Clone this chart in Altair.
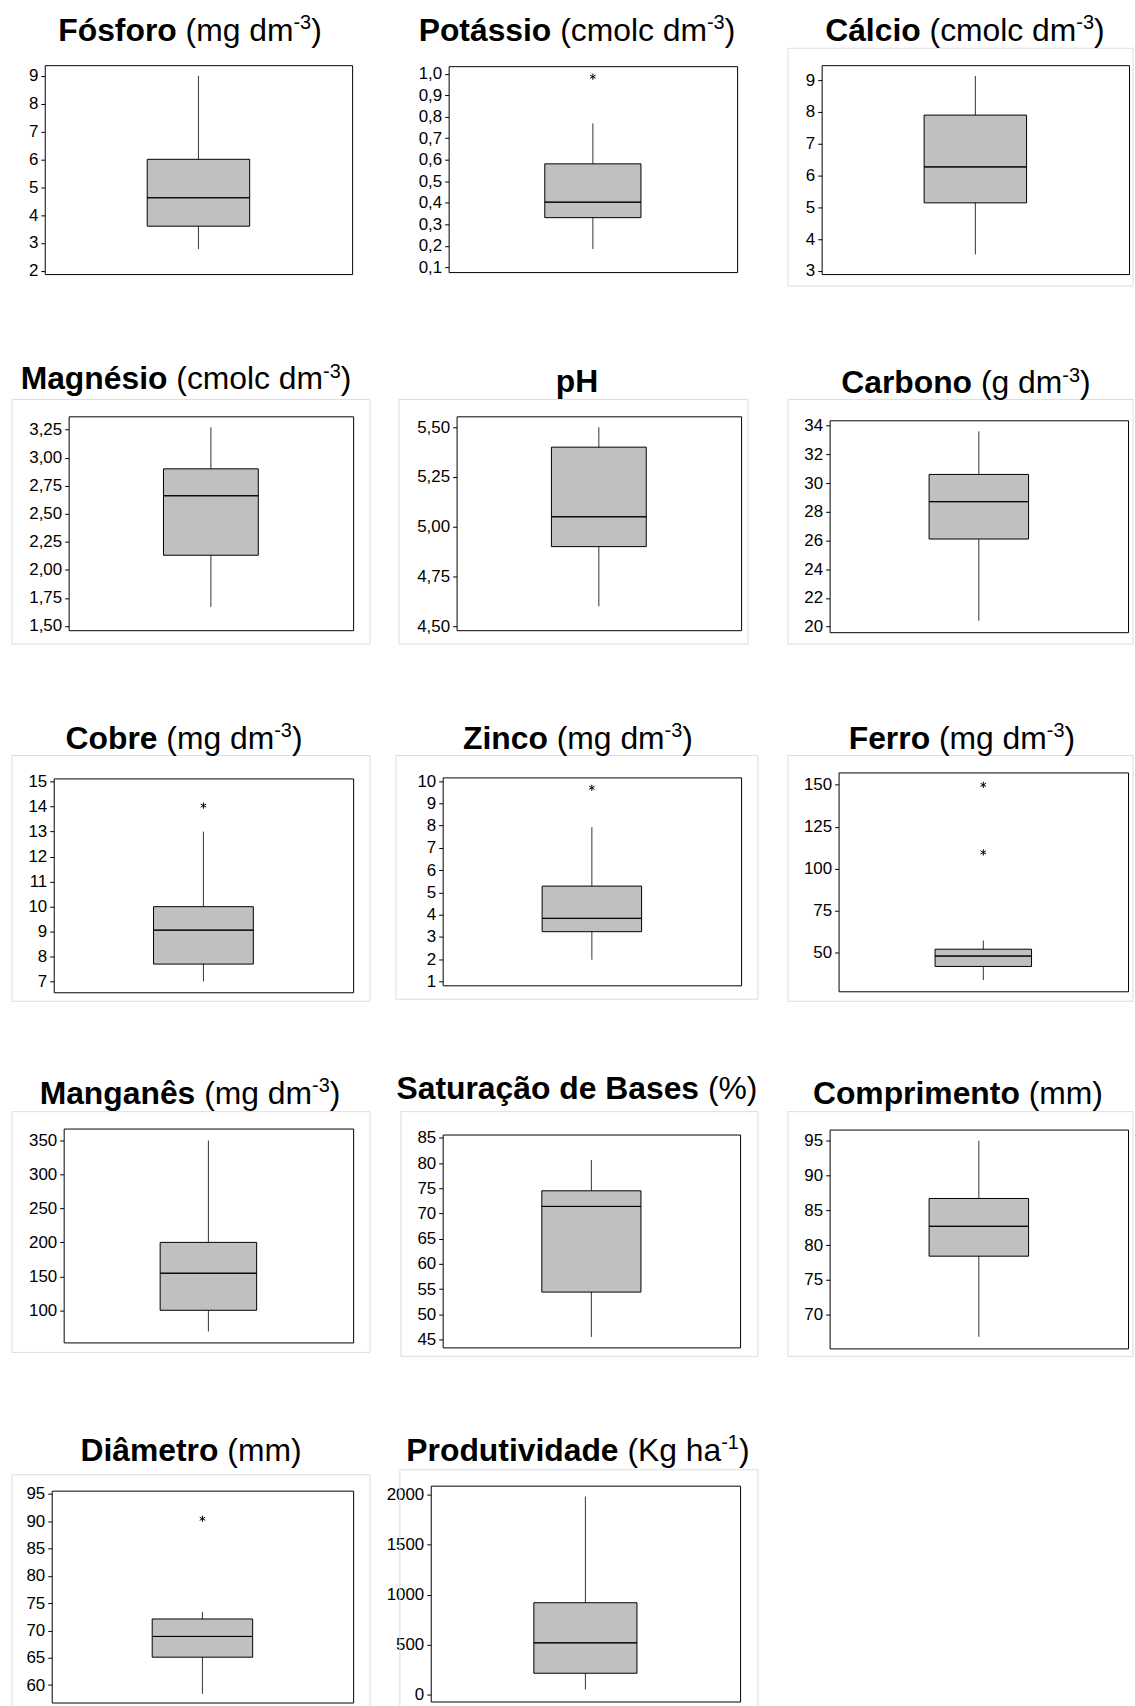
import altair as alt
import pandas as pd

# ---------------- data ----------------
names = ["Fósforo", "Potássio", "Cálcio", "Magnésio", "pH", "Carbono",
         "Cobre", "Zinco", "Ferro", "Manganês", "Saturação de Bases", "Comprimento",
         "Diâmetro", "Produtividade"]
unit_text = ["mg dm", "cmolc dm", "cmolc dm", "cmolc dm", "", "g dm",
             "mg dm", "mg dm", "mg dm", "mg dm", "%", "mm", "mm", "Kg ha"]
unit_sup = ["-3", "-3", "-3", "-3", "", "-3", "-3", "-3", "-3", "-3", "", "", "", "-1"]

whisker_low = [2.78, 0.185, 3.52, 1.67, 4.60, 20.4, 7.0, 1.97, 33.6, 68.8, 45.5, 66.8, 58.4, 54]
quartile_1 = [3.60, 0.331, 5.14, 2.13, 4.90, 26.1, 7.69, 3.23, 41.7, 100, 54.4, 78.4, 65.1, 216]
median = [4.62, 0.403, 6.27, 2.66, 5.05, 28.7, 9.05, 3.83, 47.9, 154.6, 71.4, 82.7, 68.9, 519]
quartile_3 = [6.00, 0.581, 7.90, 2.90, 5.40, 30.6, 9.99, 5.28, 52.0, 200, 74.5, 86.7, 72.1, 919]
whisker_high = [9.00, 0.769, 9.13, 3.27, 5.50, 33.6, 13.0, 7.93, 57.2, 350, 80.6, 95.0, 73.4, 1978]
outliers = [[], [0.986], [], [], [], [], [14.04], [9.70], [109.7, 150.0], [], [], [], [90.45], []]

axis_min = [1.88, 0.078, 2.90, 1.462, 4.48, 19.61, 6.56, 0.82, 26.9, 52.7, 43.42, 65.13, 56.8, -66]
axis_max = [9.38, 1.035, 9.47, 3.368, 5.555, 34.37, 15.13, 10.165, 157.4, 367.6, 85.67, 96.62, 95.6, 2086]
tick_values = [
    [2, 3, 4, 5, 6, 7, 8, 9],
    [0.1, 0.2, 0.3, 0.4, 0.5, 0.6, 0.7, 0.8, 0.9, 1.0],
    [3, 4, 5, 6, 7, 8, 9],
    [1.5, 1.75, 2.0, 2.25, 2.5, 2.75, 3.0, 3.25],
    [4.5, 4.75, 5.0, 5.25, 5.5],
    [20, 22, 24, 26, 28, 30, 32, 34],
    [7, 8, 9, 10, 11, 12, 13, 14, 15],
    [1, 2, 3, 4, 5, 6, 7, 8, 9, 10],
    [50, 75, 100, 125, 150],
    [100, 150, 200, 250, 300, 350],
    [45, 50, 55, 60, 65, 70, 75, 80, 85],
    [70, 75, 80, 85, 90, 95],
    [60, 65, 70, 75, 80, 85, 90, 95],
    [0, 500, 1000, 1500, 2000],
]
tick_decimals = [0, 1, 0, 2, 2, 0, 0, 0, 0, 0, 0, 0, 0, 0]

# ---------------- layout (pixels, page coordinates) ----------------
PAGE_DY = -5   # compensates the page's own top offset
plot_left = [44, 448, 821, 68, 456, 829, 53, 442, 838, 63, 442, 829, 51, 430]
plot_top = [65, 66, 65, 416, 416, 420, 778, 777, 772, 1128, 1134, 1129, 1490, 1485]
plot_w = [309, 290, 309, 286, 286, 300, 301, 300, 291, 291, 299, 300, 303, 311]
plot_h = [210, 207, 210, 215, 215, 213, 215, 209, 220, 215, 214, 220, 213, 217]
title_cx = [190, 577, 965, 186, 577, 966, 184, 578, 962, 190, 577, 958, 191, 578]
title_base = [41, 41, 41, 389, 392, 393, 748, 748, 748, 1103, 1098, 1103, 1460, 1460]
outer_frame = [None, None, (787, 48, 1134, 287), (11, 399, 371, 645), (398, 399, 749, 645),
               (787, 399, 1134, 645), (11, 755, 371, 1002), (395, 755, 759, 1000),
               (787, 755, 1134, 1002), (11, 1111, 371, 1353), (400, 1111, 759, 1357),
               (787, 1111, 1134, 1357), (11, 1474, 371, 1707), (399, 1469, 759, 1707)]
col_left = [1, 380, 760]
col_right = [380, 760, 1135]
row_top = [0, 315, 675, 1035, 1395]
row_bottom = [315, 675, 1035, 1395, 1703]

FONT = "Liberation Sans"
TITLE_SIZE = 32
SUP_SIZE = 20
SUP_RISE = 12
TICK_SIZE = 17
ASTER = "M0,-1L0,1M-0.866,-0.5L0.866,0.5M-0.866,0.5L0.866,-0.5"

# Arial / Liberation Sans advance widths (per 1000 em)
REG = {' ': 278, '(': 333, ')': 333, '%': 889, '-': 333, ',': 278, '.': 278,
       'a': 556, 'b': 556, 'c': 500, 'd': 556, 'e': 556, 'f': 278, 'g': 556, 'h': 556,
       'i': 222, 'k': 500, 'l': 222, 'm': 833, 'n': 556, 'o': 556, 'p': 556, 'r': 333,
       's': 500, 't': 278, 'u': 556, 'v': 500, 'K': 667, 'H': 722}
BOLD = {' ': 278, 'a': 556, 'b': 611, 'c': 556, 'd': 611, 'e': 556, 'f': 333, 'g': 611,
        'h': 611, 'i': 278, 'l': 278, 'm': 889, 'n': 611, 'o': 611, 'p': 611, 'r': 389,
        's': 556, 't': 333, 'u': 611, 'v': 556, 'á': 556, 'ó': 611, 'ã': 556, 'ç': 556,
        'é': 556, 'ê': 556, 'â': 556, 'F': 611, 'P': 667, 'C': 722, 'M': 833, 'Z': 611,
        'S': 667, 'B': 722, 'D': 722, 'H': 722}


def tw(s, table, size):
    return sum(table.get(ch, 556) for ch in s) * size / 1000.0


def spacer():
    return alt.Chart(pd.DataFrame({"s": [0]})).mark_rect(opacity=0).encode(
        x=alt.value(0), x2=alt.value(1), y=alt.value(0), y2=alt.value(1)
    ).properties(width=1, height=1)


def build_panel(i):
    col, row = i % 3, i // 3
    L, W, H = plot_left[i], plot_w[i], plot_h[i]
    T = plot_top[i] + PAGE_DY
    one = pd.DataFrame({"var": [names[i]], "lo": [whisker_low[i]], "q1": [quartile_1[i]],
                        "med": [median[i]], "q3": [quartile_3[i]], "hi": [whisker_high[i]]})
    d = tick_decimals[i]
    if d > 0:
        lab = "replace(format(datum.value, '.%df'), '.', ',')" % d
    else:
        lab = "format(datum.value, 'd')"
    yscale = alt.Scale(domain=[axis_min[i], axis_max[i]], nice=False, zero=False)
    yaxis = alt.Axis(values=tick_values[i], labelExpr=lab, title=None, grid=False, domain=False,
                     ticks=True, tickSize=4, tickColor="black", tickWidth=1, labelPadding=3,
                     labelFontSize=TICK_SIZE, labelFont=FONT, labelColor="black",
                     labelOverlap=False, labelFlush=False, labelBound=False)

    def Y(f):
        return alt.Y(f + ":Q", scale=yscale, axis=yaxis)

    X = alt.X("var:N", axis=None, scale=alt.Scale(paddingInner=0, paddingOuter=1))

    layers = []
    # invisible cell defining the panel's footprint in the grid
    layers.append(alt.Chart(one).mark_rect(opacity=0).encode(
        x=alt.value(col_left[col] - L), x2=alt.value(col_right[col] - L),
        y=alt.value(row_top[row] + 1 - T), y2=alt.value(row_bottom[row] - T)))
    if outer_frame[i] is not None:
        x1, y1, x2, y2 = outer_frame[i]
        layers.append(alt.Chart(one).mark_rect(fillOpacity=0, stroke="#dddddd", strokeWidth=1).encode(
            x=alt.value(x1 - L), x2=alt.value(x2 - L),
            y=alt.value(y1 + PAGE_DY - T), y2=alt.value(y2 + PAGE_DY - T)))
    layers.append(alt.Chart(one).mark_rule(color="#333333", strokeWidth=1).encode(
        x=X, y=Y("lo"), y2=alt.Y2("hi")))
    layers.append(alt.Chart(one).mark_bar(color="#c0c0c0", stroke="black", strokeWidth=1).encode(
        x=X, y=Y("q1"), y2=alt.Y2("q3")))
    layers.append(alt.Chart(one).mark_bar(fillOpacity=0, stroke="black", strokeWidth=1).encode(
        x=X, y=Y("med"), y2=alt.Y2("med")))
    if outliers[i]:
        od = pd.DataFrame({"var": [names[i]] * len(outliers[i]), "value": outliers[i]})
        layers.append(alt.Chart(od).mark_point(shape=ASTER, size=40, filled=False, stroke="black",
                                               strokeWidth=1, opacity=1).encode(x=X, y=Y("value")))

    # title: bold name + regular unit with superscript
    pieces = [(names[i], "bold", TITLE_SIZE, 0, BOLD)]
    gap = 0.0
    if unit_text[i]:
        gap = tw(" ", REG, TITLE_SIZE)
        pieces.append(("(" + unit_text[i], "normal", TITLE_SIZE, 0, REG))
        if unit_sup[i]:
            pieces.append((unit_sup[i], "normal", SUP_SIZE, -SUP_RISE, REG))
        pieces.append((")", "normal", TITLE_SIZE, 0, REG))
    total = sum(tw(p[0], p[4], p[2]) for p in pieces) + gap
    x = title_cx[i] - total / 2.0 - L
    yb = title_base[i] + PAGE_DY - T
    for k, (text, weight, size, rise, table) in enumerate(pieces):
        layers.append(alt.Chart(pd.DataFrame({"t": [text]})).mark_text(
            align="left", baseline="alphabetic", font=FONT, fontSize=size,
            fontWeight=weight, color="black").encode(
            text="t:N", x=alt.value(x), y=alt.value(yb + rise)))
        x += tw(text, table, size)
        if k == 0:
            x += gap

    panel = alt.layer(*layers).properties(
        width=W, height=H, view=alt.ViewBackground(stroke="black", strokeWidth=1))
    return alt.vconcat(spacer(), panel, spacing=0)


rows = []
for r in range(5):
    idx = [i for i in range(len(names)) if i // 3 == r]
    rows.append(alt.hconcat(spacer(), *[build_panel(i) for i in idx], spacing=0))

chart = (alt.vconcat(*rows, spacing=0)
         .properties(padding=0, background="white")
         .configure_view(stroke=None)
         .configure_concat(spacing=0))

chart.save("out.html", embed_options={"renderer": "svg", "actions": False})
